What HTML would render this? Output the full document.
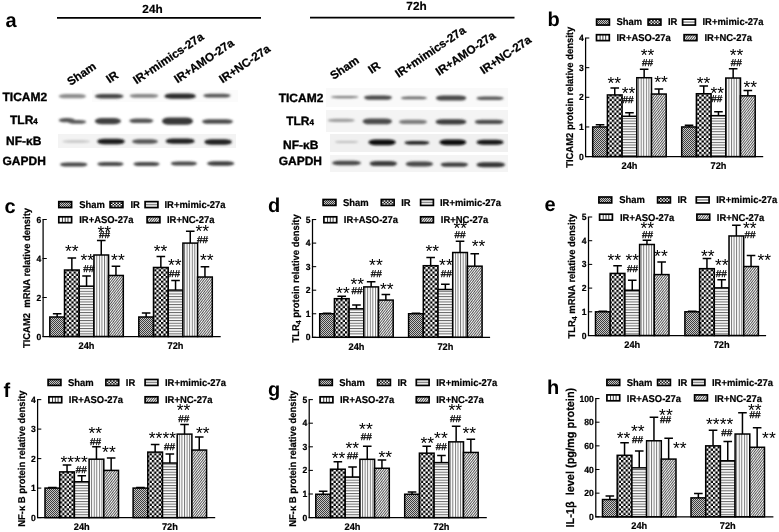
<!DOCTYPE html>
<html lang="en"><head><meta charset="utf-8"><title>Figure</title>
<style>
html,body{margin:0;padding:0;background:#fff}
svg{display:block;font-family:"Liberation Sans", Arial, sans-serif;text-rendering:geometricPrecision}
.t{font-size:9.45px;font-weight:bold;fill:#000;stroke:#000;stroke-width:.2px}
.s{font-size:17.5px;fill:#000}
.h{font-size:10px;fill:#000;stroke:#000;stroke-width:.3px}
.L{font-size:20px;font-weight:bold;fill:#000}
.hd{font-size:11.8px;font-weight:bold;fill:#000;stroke:#000;stroke-width:.2px}
.cl{font-size:11.7px;font-weight:bold;fill:#000;stroke:#000;stroke-width:.25px}
.rl{font-size:12px;font-weight:bold;fill:#000;stroke:#000;stroke-width:.35px}
</style></head><body>
<svg width="779" height="532" viewBox="0 0 779 532">
<defs>
<filter id="blur" x="-5%" y="-5%" width="110%" height="110%"><feGaussianBlur stdDeviation="1"/></filter>
<pattern id="pSham" width="2" height="2" patternUnits="userSpaceOnUse"><rect width="2" height="2" fill="#c6c6c6"/><rect width="1" height="1" fill="#3c3c3c"/><rect x="1" y="1" width="1" height="1" fill="#3c3c3c"/></pattern>
<pattern id="pIR" width="4.6" height="4.6" patternUnits="userSpaceOnUse"><rect width="4.6" height="4.6" fill="#fff"/><rect width="2.3" height="2.3" fill="#000"/><rect x="2.3" y="2.3" width="2.3" height="2.3" fill="#000"/></pattern>
<pattern id="pMim" width="2.66" height="2.66" patternUnits="userSpaceOnUse"><rect width="2.66" height="2.66" fill="#fff"/><rect y="1" width="2.66" height="0.88" fill="#505050"/></pattern>
<pattern id="pASO" width="2.58" height="2.58" patternUnits="userSpaceOnUse"><rect width="2.58" height="2.58" fill="#fff"/><rect x="1" width="0.8" height="2.58" fill="#5c5c5c"/></pattern>
<pattern id="pNC" width="1.9" height="1.9" patternUnits="userSpaceOnUse" patternTransform="rotate(-52)"><rect width="1.9" height="1.9" fill="#fbfbfb"/><rect width="1.9" height="0.88" fill="#444"/></pattern>
</defs>
<rect width="779" height="532" fill="#fff"/>
<g>
<text x="5.5" y="27.4" class="L">a</text>
<text x="152.5" y="13" text-anchor="middle" class="hd">24h</text>
<text x="416.5" y="9.8" text-anchor="middle" class="hd">72h</text>
<path d="M57 17.8H261M310 17.7H514.5" stroke="#000" stroke-width="1.7"/>
<text transform="translate(70.5 86) rotate(-34)" class="cl">Sham</text>
<text transform="translate(109.5 83.5) rotate(-34)" class="cl">IR</text>
<text transform="translate(136.5 84.5) rotate(-34)" class="cl">IR+mimics-27a</text>
<text transform="translate(177.5 83.5) rotate(-34)" class="cl">IR+AMO-27a</text>
<text transform="translate(222.5 83.5) rotate(-34)" class="cl">IR+NC-27a</text>
<text transform="translate(333.5 80) rotate(-34)" class="cl">Sham</text>
<text transform="translate(371.5 74) rotate(-34)" class="cl">IR</text>
<text transform="translate(398.5 78) rotate(-34)" class="cl">IR+mimics-27a</text>
<text transform="translate(439 76) rotate(-34)" class="cl">IR+AMO-27a</text>
<text transform="translate(483.5 74.5) rotate(-34)" class="cl">IR+NC-27a</text>
<text x="2.5" y="101.2" class="rl">TICAM2</text>
<text x="10" y="123.6" class="rl">TLR<tspan font-size="8">4</tspan></text>
<text x="6" y="145.1" class="rl">NF-κB</text>
<text x="2.5" y="164.6" class="rl">GAPDH</text>
<text x="278.7" y="102.3" class="rl">TICAM2</text>
<text x="286.2" y="124.9" class="rl">TLR<tspan font-size="8">4</tspan></text>
<text x="283" y="148.5" class="rl">NF-κB</text>
<text x="278.7" y="165.3" class="rl">GAPDH</text>
<rect x="92" y="90" width="146" height="12" fill="#fbfbfb"/>
<rect x="58" y="134" width="178" height="14" fill="#f3f3f3"/>
<rect x="326" y="88" width="182" height="19" fill="#f9f9f9"/>
<rect x="326" y="110" width="182" height="22" fill="#f4f4f4"/>
<rect x="330" y="134" width="178" height="18" fill="#f0f0f0"/>
<rect x="330" y="155" width="178" height="17" fill="#f4f4f4"/>
<g filter="url(#blur)">
<rect x="58.7" y="94.07" width="27.4" height="4.26" rx="7" ry="2.13" fill="#8c8c8c"/>
<rect x="94.8" y="93.99" width="28.7" height="4.43" rx="7" ry="2.21" fill="#444"/>
<rect x="129.7" y="93.91" width="28.6" height="3.77" rx="7" ry="1.89" fill="#848484"/>
<rect x="164.6" y="93.53" width="31.1" height="5.33" rx="7" ry="2.67" fill="#2a2a2a"/>
<rect x="203.2" y="93.63" width="27.4" height="3.94" rx="7" ry="1.97" fill="#555"/>
<rect x="58.7" y="118.07" width="16.3" height="4.26" rx="7" ry="2.13" fill="#555"/>
<rect x="68" y="120.01" width="18.1" height="3.77" rx="7" ry="1.89" fill="#5a5a5a"/>
<rect x="94.8" y="118.02" width="26.2" height="6.15" rx="7" ry="3.07" fill="#404040"/>
<rect x="129.2" y="118.55" width="24.2" height="4.51" rx="7" ry="2.25" fill="#555"/>
<rect x="162" y="117.41" width="31" height="7.38" rx="7" ry="3.69" fill="#383838"/>
<rect x="202" y="119.34" width="31" height="4.51" rx="7" ry="2.25" fill="#4c4c4c"/>
<rect x="62.5" y="140.35" width="27.5" height="2.3" rx="7" ry="1.15" fill="#c4c4c4"/>
<rect x="97.3" y="138.84" width="27.4" height="5.33" rx="7" ry="2.67" fill="#1c1c1c"/>
<rect x="132" y="139.25" width="26" height="4.51" rx="7" ry="2.25" fill="#555"/>
<rect x="165.8" y="138.53" width="28.7" height="5.33" rx="7" ry="2.67" fill="#222"/>
<rect x="204.4" y="139.34" width="27.4" height="5.33" rx="7" ry="2.67" fill="#222"/>
<rect x="60" y="162.45" width="27.4" height="4.1" rx="7" ry="2.05" fill="#484848"/>
<rect x="97.3" y="161.95" width="26.2" height="4.1" rx="7" ry="2.05" fill="#484848"/>
<rect x="133.4" y="161.95" width="26.2" height="4.1" rx="7" ry="2.05" fill="#484848"/>
<rect x="170.8" y="161.45" width="26.2" height="4.1" rx="7" ry="2.05" fill="#484848"/>
<rect x="207" y="161.37" width="27.3" height="4.26" rx="7" ry="2.13" fill="#404040"/>
<rect x="331" y="96.02" width="27.4" height="2.16" rx="7" ry="1.08" fill="#7a7a7a"/>
<rect x="364" y="95.44" width="28" height="4.32" rx="7" ry="2.16" fill="#484848"/>
<rect x="400.8" y="96.46" width="26.2" height="2.88" rx="7" ry="1.44" fill="#686868"/>
<rect x="435.9" y="95.58" width="30.4" height="5.04" rx="7" ry="2.52" fill="#484848"/>
<rect x="476.5" y="96.4" width="27.1" height="3.6" rx="7" ry="1.8" fill="#585858"/>
<rect x="327.8" y="118.78" width="26.9" height="3.24" rx="7" ry="1.62" fill="#9c9c9c"/>
<rect x="362.7" y="118.52" width="29.3" height="5.76" rx="7" ry="2.88" fill="#4c4c4c"/>
<rect x="399" y="119.74" width="28" height="4.32" rx="7" ry="2.16" fill="#7c7c7c"/>
<rect x="435.6" y="119.2" width="30.7" height="5.4" rx="7" ry="2.7" fill="#3c3c3c"/>
<rect x="474.8" y="119.74" width="28.8" height="4.32" rx="7" ry="2.16" fill="#4c4c4c"/>
<rect x="334.8" y="141.1" width="23.6" height="1.8" rx="7" ry="0.9" fill="#bcbcbc"/>
<rect x="368.4" y="139.42" width="27.4" height="5.76" rx="7" ry="2.88" fill="#0c0c0c"/>
<rect x="404.5" y="141" width="24.9" height="3.6" rx="7" ry="1.8" fill="#1c1c1c"/>
<rect x="439.4" y="139.42" width="26.9" height="5.76" rx="7" ry="2.88" fill="#0c0c0c"/>
<rect x="476.5" y="139.78" width="27.1" height="5.04" rx="7" ry="2.52" fill="#141414"/>
<rect x="332" y="160.84" width="29" height="4.32" rx="7" ry="2.16" fill="#484848"/>
<rect x="369.6" y="161.08" width="27.4" height="5.04" rx="7" ry="2.52" fill="#3c3c3c"/>
<rect x="405.7" y="161.48" width="27.3" height="5.04" rx="7" ry="2.52" fill="#484848"/>
<rect x="440.6" y="162.44" width="27.4" height="4.32" rx="7" ry="2.16" fill="#3c3c3c"/>
<rect x="476.5" y="162.28" width="28.5" height="5.04" rx="7" ry="2.52" fill="#343434"/>
</g>
</g>
<g>
<path d="M600.05 126.95V124.87M595.75 124.87H604.35" stroke="#000" stroke-width="1.5" fill="none"/>
<rect x="592.7" y="126.95" width="14.7" height="29.65" fill="url(#pSham)" stroke="#000" stroke-width="1.5"/>
<path d="M614.75 94.93V88.11M610.45 88.11H619.05" stroke="#000" stroke-width="1.5" fill="none"/>
<rect x="607.4" y="94.93" width="14.7" height="61.67" fill="url(#pIR)" stroke="#000" stroke-width="1.5"/>
<path d="M629.45 116.28V112.72M625.15 112.72H633.75" stroke="#000" stroke-width="1.5" fill="none"/>
<rect x="622.1" y="116.28" width="14.7" height="40.32" fill="url(#pMim)" stroke="#000" stroke-width="1.5"/>
<path d="M644.15 77.73V69.13M639.85 69.13H648.45" stroke="#000" stroke-width="1.5" fill="none"/>
<rect x="636.8" y="77.73" width="14.7" height="78.87" fill="url(#pASO)" stroke="#000" stroke-width="1.5"/>
<path d="M658.85 94.04V89M654.55 89H663.15" stroke="#000" stroke-width="1.5" fill="none"/>
<rect x="651.5" y="94.04" width="14.7" height="62.56" fill="url(#pNC)" stroke="#000" stroke-width="1.5"/>
<path d="M689.05 126.95V125.17M684.75 125.17H693.35" stroke="#000" stroke-width="1.5" fill="none"/>
<rect x="681.7" y="126.95" width="14.7" height="29.65" fill="url(#pSham)" stroke="#000" stroke-width="1.5"/>
<path d="M703.75 93.74V86.03M699.45 86.03H708.05" stroke="#000" stroke-width="1.5" fill="none"/>
<rect x="696.4" y="93.74" width="14.7" height="62.86" fill="url(#pIR)" stroke="#000" stroke-width="1.5"/>
<path d="M718.45 115.68V111.83M714.15 111.83H722.75" stroke="#000" stroke-width="1.5" fill="none"/>
<rect x="711.1" y="115.68" width="14.7" height="40.92" fill="url(#pMim)" stroke="#000" stroke-width="1.5"/>
<path d="M733.15 78.03V68.84M728.85 68.84H737.45" stroke="#000" stroke-width="1.5" fill="none"/>
<rect x="725.8" y="78.03" width="14.7" height="78.57" fill="url(#pASO)" stroke="#000" stroke-width="1.5"/>
<path d="M747.85 95.82V90.48M743.55 90.48H752.15" stroke="#000" stroke-width="1.5" fill="none"/>
<rect x="740.5" y="95.82" width="14.7" height="60.78" fill="url(#pNC)" stroke="#000" stroke-width="1.5"/>
<path d="M585.6 38V156.6H763.2" stroke="#000" stroke-width="1.25" fill="none"/>
<path d="M585 156.6H589.3" stroke="#000" stroke-width="1.05"/>
<text transform="translate(583.7 159.6) scale(1 1.045)" text-anchor="end" class="t" style="font-size:8.6px">0</text>
<path d="M585 126.95H589.3" stroke="#000" stroke-width="1.05"/>
<text transform="translate(583.7 129.95) scale(1 1.045)" text-anchor="end" class="t" style="font-size:8.6px">1</text>
<path d="M585 97.3H589.3" stroke="#000" stroke-width="1.05"/>
<text transform="translate(583.7 100.3) scale(1 1.045)" text-anchor="end" class="t" style="font-size:8.6px">2</text>
<path d="M585 67.65H589.3" stroke="#000" stroke-width="1.05"/>
<text transform="translate(583.7 70.65) scale(1 1.045)" text-anchor="end" class="t" style="font-size:8.6px">3</text>
<path d="M585 38H589.3" stroke="#000" stroke-width="1.05"/>
<text transform="translate(583.7 41) scale(1 1.045)" text-anchor="end" class="t" style="font-size:8.6px">4</text>
<text transform="translate(629.45 169) scale(1 1.045)" text-anchor="middle" class="t" style="font-size:9.25px">24h</text>
<text transform="translate(718.45 169) scale(1 1.045)" text-anchor="middle" class="t" style="font-size:9.25px">72h</text>
<text transform="translate(572.5 97.3) rotate(-90) scale(1 1.045)" text-anchor="middle" class="t" style="font-size:9.45px">TICAM2 protein relative density</text>
<text x="614.2" y="88.5" text-anchor="middle" class="s">**</text>
<text x="628.5" y="98.5" text-anchor="middle" class="s">**</text>
<text x="647.5" y="60.5" text-anchor="middle" class="s">**</text>
<text x="661" y="88" text-anchor="middle" class="s">**</text>
<text x="703.5" y="88.5" text-anchor="middle" class="s">**</text>
<text x="717.2" y="98.5" text-anchor="middle" class="s">**</text>
<text x="736.5" y="60.5" text-anchor="middle" class="s">**</text>
<text x="750.2" y="93" text-anchor="middle" class="s">**</text>
<text x="628" y="102.8" text-anchor="middle" class="h">##</text>
<text x="647.5" y="65.8" text-anchor="middle" class="h">##</text>
<text x="716.8" y="102.1" text-anchor="middle" class="h">##</text>
<text x="736.3" y="65.8" text-anchor="middle" class="h">##</text>
<rect x="596.6" y="19.15" width="12.8" height="5.9" fill="url(#pSham)" stroke="#000" stroke-width="1.7"/>
<text transform="translate(616.5 25.45) scale(1 1.045)" class="t">Sham</text>
<rect x="648.1" y="19.15" width="12.8" height="5.9" fill="#fff"/>
<path d="M648.95 20h1.59v1.4h-1.59zM652.12 20h1.59v1.4h-1.59zM655.29 20h1.59v1.4h-1.59zM658.46 20h1.59v1.4h-1.59zM650.54 21.4h1.59v1.4h-1.59zM653.71 21.4h1.59v1.4h-1.59zM656.88 21.4h1.59v1.4h-1.59zM648.95 22.8h1.59v1.4h-1.59zM652.12 22.8h1.59v1.4h-1.59zM655.29 22.8h1.59v1.4h-1.59zM658.46 22.8h1.59v1.4h-1.59z" fill="#000"/>
<rect x="648.1" y="19.15" width="12.8" height="5.9" fill="none" stroke="#000" stroke-width="1.7"/>
<text transform="translate(668 25.45) scale(1 1.045)" class="t">IR</text>
<rect x="682.6" y="19.15" width="12.8" height="5.9" fill="#fff"/>
<path d="M682.6 22.1h12.8" stroke="#8a8a8a" stroke-width="1.5" fill="none"/>
<rect x="682.6" y="19.15" width="12.8" height="5.9" fill="none" stroke="#000" stroke-width="1.7"/>
<text transform="translate(702.5 25.45) scale(1 1.045)" class="t">IR+mimic-27a</text>
<rect x="596.5" y="34.7" width="12.8" height="5.9" fill="#fff"/>
<path d="M600.12 34.7v5.9M602.9 34.7v5.9M605.68 34.7v5.9" stroke="#333" stroke-width="0.95" fill="none"/>
<rect x="596.5" y="34.7" width="12.8" height="5.9" fill="none" stroke="#000" stroke-width="1.7"/>
<text transform="translate(616.5 41) scale(1 1.045)" class="t">IR+ASO-27a</text>
<rect x="684.1" y="34.7" width="12.8" height="5.9" fill="url(#pNC)" stroke="#000" stroke-width="1.7"/>
<text transform="translate(704.5 41) scale(1 1.045)" class="t">IR+NC-27a</text>
<text x="547.5" y="26.4" class="L">b</text>
</g>
<g>
<path d="M57.15 317V313.69M52.85 313.69H61.45" stroke="#000" stroke-width="1.5" fill="none"/>
<rect x="49.8" y="317" width="14.7" height="19.5" fill="url(#pSham)" stroke="#000" stroke-width="1.5"/>
<path d="M71.85 270V257.91M67.55 257.91H76.15" stroke="#000" stroke-width="1.5" fill="none"/>
<rect x="64.5" y="270" width="14.7" height="66.5" fill="url(#pIR)" stroke="#000" stroke-width="1.5"/>
<path d="M86.55 286.19V276.05M82.25 276.05H90.85" stroke="#000" stroke-width="1.5" fill="none"/>
<rect x="79.2" y="286.19" width="14.7" height="50.31" fill="url(#pMim)" stroke="#000" stroke-width="1.5"/>
<path d="M101.25 254.99V240.56M96.95 240.56H105.55" stroke="#000" stroke-width="1.5" fill="none"/>
<rect x="93.9" y="254.99" width="14.7" height="81.51" fill="url(#pASO)" stroke="#000" stroke-width="1.5"/>
<path d="M115.95 275.47V266.3M111.65 266.3H120.25" stroke="#000" stroke-width="1.5" fill="none"/>
<rect x="108.6" y="275.47" width="14.7" height="61.03" fill="url(#pNC)" stroke="#000" stroke-width="1.5"/>
<path d="M146.15 317V313.1M141.85 313.1H150.45" stroke="#000" stroke-width="1.5" fill="none"/>
<rect x="138.8" y="317" width="14.7" height="19.5" fill="url(#pSham)" stroke="#000" stroke-width="1.5"/>
<path d="M160.85 267.47V256.55M156.55 256.55H165.15" stroke="#000" stroke-width="1.5" fill="none"/>
<rect x="153.5" y="267.47" width="14.7" height="69.03" fill="url(#pIR)" stroke="#000" stroke-width="1.5"/>
<path d="M175.55 290.09V280.53M171.25 280.53H179.85" stroke="#000" stroke-width="1.5" fill="none"/>
<rect x="168.2" y="290.09" width="14.7" height="46.41" fill="url(#pMim)" stroke="#000" stroke-width="1.5"/>
<path d="M190.25 243.09V231.2M185.95 231.2H194.55" stroke="#000" stroke-width="1.5" fill="none"/>
<rect x="182.9" y="243.09" width="14.7" height="93.41" fill="url(#pASO)" stroke="#000" stroke-width="1.5"/>
<path d="M204.95 277.02V266.69M200.65 266.69H209.25" stroke="#000" stroke-width="1.5" fill="none"/>
<rect x="197.6" y="277.02" width="14.7" height="59.48" fill="url(#pNC)" stroke="#000" stroke-width="1.5"/>
<path d="M43.1 219.5V336.5H220.7" stroke="#000" stroke-width="1.25" fill="none"/>
<path d="M42.5 336.5H46.8" stroke="#000" stroke-width="1.05"/>
<text transform="translate(41.2 339.5) scale(1 1.045)" text-anchor="end" class="t" style="font-size:8.6px">0</text>
<path d="M42.5 297.5H46.8" stroke="#000" stroke-width="1.05"/>
<text transform="translate(41.2 300.5) scale(1 1.045)" text-anchor="end" class="t" style="font-size:8.6px">2</text>
<path d="M42.5 258.5H46.8" stroke="#000" stroke-width="1.05"/>
<text transform="translate(41.2 261.5) scale(1 1.045)" text-anchor="end" class="t" style="font-size:8.6px">4</text>
<path d="M42.5 219.5H46.8" stroke="#000" stroke-width="1.05"/>
<text transform="translate(41.2 222.5) scale(1 1.045)" text-anchor="end" class="t" style="font-size:8.6px">6</text>
<text transform="translate(86.55 348.6) scale(1 1.045)" text-anchor="middle" class="t" style="font-size:9.25px">24h</text>
<text transform="translate(175.55 348.6) scale(1 1.045)" text-anchor="middle" class="t" style="font-size:9.25px">72h</text>
<text transform="translate(30.4 278) rotate(-90) scale(1 1.045)" text-anchor="middle" class="t" style="font-size:9.45px">TICAM2  mRNA relative density</text>
<text x="71.7" y="256.7" text-anchor="middle" class="s">**</text>
<text x="87.2" y="266" text-anchor="middle" class="s">**</text>
<text x="104.2" y="237.7" text-anchor="middle" class="s">**</text>
<text x="117.9" y="266" text-anchor="middle" class="s">**</text>
<text x="160.5" y="256.7" text-anchor="middle" class="s">**</text>
<text x="174.7" y="271" text-anchor="middle" class="s">**</text>
<text x="202.2" y="236.7" text-anchor="middle" class="s">**</text>
<text x="206.7" y="266" text-anchor="middle" class="s">**</text>
<text x="88.8" y="271.5" text-anchor="middle" class="h">##</text>
<text x="104.5" y="238.3" text-anchor="middle" class="h">##</text>
<text x="174.5" y="276.5" text-anchor="middle" class="h">##</text>
<text x="202.5" y="242.8" text-anchor="middle" class="h">##</text>
<rect x="58.8" y="201.65" width="12.8" height="5.9" fill="url(#pSham)" stroke="#000" stroke-width="1.7"/>
<text transform="translate(79.2 207.95) scale(1 1.045)" class="t">Sham</text>
<rect x="110.1" y="201.65" width="12.8" height="5.9" fill="#fff"/>
<path d="M110.95 202.5h1.59v1.4h-1.59zM114.12 202.5h1.59v1.4h-1.59zM117.29 202.5h1.59v1.4h-1.59zM120.46 202.5h1.59v1.4h-1.59zM112.54 203.9h1.59v1.4h-1.59zM115.71 203.9h1.59v1.4h-1.59zM118.88 203.9h1.59v1.4h-1.59zM110.95 205.3h1.59v1.4h-1.59zM114.12 205.3h1.59v1.4h-1.59zM117.29 205.3h1.59v1.4h-1.59zM120.46 205.3h1.59v1.4h-1.59z" fill="#000"/>
<rect x="110.1" y="201.65" width="12.8" height="5.9" fill="none" stroke="#000" stroke-width="1.7"/>
<text transform="translate(130.5 207.95) scale(1 1.045)" class="t">IR</text>
<rect x="145.1" y="201.65" width="12.8" height="5.9" fill="#fff"/>
<path d="M145.1 204.6h12.8" stroke="#8a8a8a" stroke-width="1.5" fill="none"/>
<rect x="145.1" y="201.65" width="12.8" height="5.9" fill="none" stroke="#000" stroke-width="1.7"/>
<text transform="translate(164.5 207.95) scale(1 1.045)" class="t">IR+mimic-27a</text>
<rect x="58.8" y="216.8" width="12.8" height="5.9" fill="#fff"/>
<path d="M62.43 216.8v5.9M65.2 216.8v5.9M67.98 216.8v5.9" stroke="#333" stroke-width="0.95" fill="none"/>
<rect x="58.8" y="216.8" width="12.8" height="5.9" fill="none" stroke="#000" stroke-width="1.7"/>
<text transform="translate(79.2 223.1) scale(1 1.045)" class="t">IR+ASO-27a</text>
<rect x="147.1" y="216.8" width="12.8" height="5.9" fill="url(#pNC)" stroke="#000" stroke-width="1.7"/>
<text transform="translate(167 223.1) scale(1 1.045)" class="t">IR+NC-27a</text>
<text x="4.5" y="212.6" class="L">c</text>
</g>
<g>
<path d="M327.05 313.75V313.28M322.75 313.28H331.35" stroke="#000" stroke-width="1.5" fill="none"/>
<rect x="319.7" y="313.75" width="14.7" height="23.55" fill="url(#pSham)" stroke="#000" stroke-width="1.5"/>
<path d="M341.75 298.68V296.32M337.45 296.32H346.05" stroke="#000" stroke-width="1.5" fill="none"/>
<rect x="334.4" y="298.68" width="14.7" height="38.62" fill="url(#pIR)" stroke="#000" stroke-width="1.5"/>
<path d="M356.45 308.8V305.04M352.15 305.04H360.75" stroke="#000" stroke-width="1.5" fill="none"/>
<rect x="349.1" y="308.8" width="14.7" height="28.5" fill="url(#pMim)" stroke="#000" stroke-width="1.5"/>
<path d="M371.15 286.9V281.72M366.85 281.72H375.45" stroke="#000" stroke-width="1.5" fill="none"/>
<rect x="363.8" y="286.9" width="14.7" height="50.4" fill="url(#pASO)" stroke="#000" stroke-width="1.5"/>
<path d="M385.85 300.09V294.44M381.55 294.44H390.15" stroke="#000" stroke-width="1.5" fill="none"/>
<rect x="378.5" y="300.09" width="14.7" height="37.21" fill="url(#pNC)" stroke="#000" stroke-width="1.5"/>
<path d="M415.95 313.75V313.28M411.65 313.28H420.25" stroke="#000" stroke-width="1.5" fill="none"/>
<rect x="408.6" y="313.75" width="14.7" height="23.55" fill="url(#pSham)" stroke="#000" stroke-width="1.5"/>
<path d="M430.65 265.71V257.47M426.35 257.47H434.95" stroke="#000" stroke-width="1.5" fill="none"/>
<rect x="423.3" y="265.71" width="14.7" height="71.59" fill="url(#pIR)" stroke="#000" stroke-width="1.5"/>
<path d="M445.35 289.49V284.31M441.05 284.31H449.65" stroke="#000" stroke-width="1.5" fill="none"/>
<rect x="438" y="289.49" width="14.7" height="47.81" fill="url(#pMim)" stroke="#000" stroke-width="1.5"/>
<path d="M460.05 252.52V241.22M455.75 241.22H464.35" stroke="#000" stroke-width="1.5" fill="none"/>
<rect x="452.7" y="252.52" width="14.7" height="84.78" fill="url(#pASO)" stroke="#000" stroke-width="1.5"/>
<path d="M474.75 266.18V253.7M470.45 253.7H479.05" stroke="#000" stroke-width="1.5" fill="none"/>
<rect x="467.4" y="266.18" width="14.7" height="71.12" fill="url(#pNC)" stroke="#000" stroke-width="1.5"/>
<path d="M312.5 219.55V337.3H490.1" stroke="#000" stroke-width="1.25" fill="none"/>
<path d="M311.9 337.3H316.2" stroke="#000" stroke-width="1.05"/>
<text transform="translate(310.6 340.3) scale(1 1.045)" text-anchor="end" class="t" style="font-size:8.6px">0</text>
<path d="M311.9 313.75H316.2" stroke="#000" stroke-width="1.05"/>
<text transform="translate(310.6 316.75) scale(1 1.045)" text-anchor="end" class="t" style="font-size:8.6px">1</text>
<path d="M311.9 290.2H316.2" stroke="#000" stroke-width="1.05"/>
<text transform="translate(310.6 293.2) scale(1 1.045)" text-anchor="end" class="t" style="font-size:8.6px">2</text>
<path d="M311.9 266.65H316.2" stroke="#000" stroke-width="1.05"/>
<text transform="translate(310.6 269.65) scale(1 1.045)" text-anchor="end" class="t" style="font-size:8.6px">3</text>
<path d="M311.9 243.1H316.2" stroke="#000" stroke-width="1.05"/>
<text transform="translate(310.6 246.1) scale(1 1.045)" text-anchor="end" class="t" style="font-size:8.6px">4</text>
<path d="M311.9 219.55H316.2" stroke="#000" stroke-width="1.05"/>
<text transform="translate(310.6 222.55) scale(1 1.045)" text-anchor="end" class="t" style="font-size:8.6px">5</text>
<text transform="translate(356.45 349.9) scale(1 1.045)" text-anchor="middle" class="t" style="font-size:9.25px">24h</text>
<text transform="translate(445.35 349.9) scale(1 1.045)" text-anchor="middle" class="t" style="font-size:9.25px">72h</text>
<text transform="translate(299.4 278.43) rotate(-90) scale(1 1.045)" text-anchor="middle" class="t" style="font-size:9.45px">TLR<tspan font-size="7" dy="2">4</tspan><tspan dy="-2"> protein relative density</tspan></text>
<text x="342.9" y="299.3" text-anchor="middle" class="s">**</text>
<text x="357.2" y="289.7" text-anchor="middle" class="s">**</text>
<text x="375.9" y="271" text-anchor="middle" class="s">**</text>
<text x="386.7" y="294.7" text-anchor="middle" class="s">**</text>
<text x="432.2" y="256.7" text-anchor="middle" class="s">**</text>
<text x="445.9" y="271" text-anchor="middle" class="s">**</text>
<text x="460.2" y="234.3" text-anchor="middle" class="s">**</text>
<text x="478.5" y="251.7" text-anchor="middle" class="s">**</text>
<text x="357" y="294.1" text-anchor="middle" class="h">##</text>
<text x="376.2" y="276.5" text-anchor="middle" class="h">##</text>
<text x="446.2" y="276.5" text-anchor="middle" class="h">##</text>
<text x="460" y="238.3" text-anchor="middle" class="h">##</text>
<rect x="323.1" y="199.5" width="12.8" height="5.9" fill="url(#pSham)" stroke="#000" stroke-width="1.7"/>
<text transform="translate(343 205.8) scale(1 1.045)" class="t">Sham</text>
<rect x="381.3" y="199.5" width="12.8" height="5.9" fill="#fff"/>
<path d="M382.15 200.35h1.59v1.4h-1.59zM385.32 200.35h1.59v1.4h-1.59zM388.49 200.35h1.59v1.4h-1.59zM391.66 200.35h1.59v1.4h-1.59zM383.74 201.75h1.59v1.4h-1.59zM386.91 201.75h1.59v1.4h-1.59zM390.08 201.75h1.59v1.4h-1.59zM382.15 203.15h1.59v1.4h-1.59zM385.32 203.15h1.59v1.4h-1.59zM388.49 203.15h1.59v1.4h-1.59zM391.66 203.15h1.59v1.4h-1.59z" fill="#000"/>
<rect x="381.3" y="199.5" width="12.8" height="5.9" fill="none" stroke="#000" stroke-width="1.7"/>
<text transform="translate(401.2 205.8) scale(1 1.045)" class="t">IR</text>
<rect x="420.6" y="199.5" width="12.8" height="5.9" fill="#fff"/>
<path d="M420.6 202.45h12.8" stroke="#8a8a8a" stroke-width="1.5" fill="none"/>
<rect x="420.6" y="199.5" width="12.8" height="5.9" fill="none" stroke="#000" stroke-width="1.7"/>
<text transform="translate(440 205.8) scale(1 1.045)" class="t">IR+mimic-27a</text>
<rect x="323.9" y="216.8" width="12.8" height="5.9" fill="#fff"/>
<path d="M327.53 216.8v5.9M330.3 216.8v5.9M333.08 216.8v5.9" stroke="#333" stroke-width="0.95" fill="none"/>
<rect x="323.9" y="216.8" width="12.8" height="5.9" fill="none" stroke="#000" stroke-width="1.7"/>
<text transform="translate(343.8 223.1) scale(1 1.045)" class="t">IR+ASO-27a</text>
<rect x="420.6" y="216.8" width="12.8" height="5.9" fill="url(#pNC)" stroke="#000" stroke-width="1.7"/>
<text transform="translate(440.8 223.1) scale(1 1.045)" class="t">IR+NC-27a</text>
<text x="268" y="211.7" class="L">d</text>
</g>
<g>
<path d="M602.85 311.8V311.33M598.55 311.33H607.15" stroke="#000" stroke-width="1.5" fill="none"/>
<rect x="595.5" y="311.8" width="14.7" height="23.7" fill="url(#pSham)" stroke="#000" stroke-width="1.5"/>
<path d="M617.55 273.41V265.82M613.25 265.82H621.85" stroke="#000" stroke-width="1.5" fill="none"/>
<rect x="610.2" y="273.41" width="14.7" height="62.09" fill="url(#pIR)" stroke="#000" stroke-width="1.5"/>
<path d="M632.25 290.23V280.28M627.95 280.28H636.55" stroke="#000" stroke-width="1.5" fill="none"/>
<rect x="624.9" y="290.23" width="14.7" height="45.27" fill="url(#pMim)" stroke="#000" stroke-width="1.5"/>
<path d="M646.95 244.49V240.23M642.65 240.23H651.25" stroke="#000" stroke-width="1.5" fill="none"/>
<rect x="639.6" y="244.49" width="14.7" height="91.01" fill="url(#pASO)" stroke="#000" stroke-width="1.5"/>
<path d="M661.65 274.59V262.03M657.35 262.03H665.95" stroke="#000" stroke-width="1.5" fill="none"/>
<rect x="654.3" y="274.59" width="14.7" height="60.91" fill="url(#pNC)" stroke="#000" stroke-width="1.5"/>
<path d="M692.25 311.8V311.33M687.95 311.33H696.55" stroke="#000" stroke-width="1.5" fill="none"/>
<rect x="684.9" y="311.8" width="14.7" height="23.7" fill="url(#pSham)" stroke="#000" stroke-width="1.5"/>
<path d="M706.95 268.67V258.48M702.65 258.48H711.25" stroke="#000" stroke-width="1.5" fill="none"/>
<rect x="699.6" y="268.67" width="14.7" height="66.83" fill="url(#pIR)" stroke="#000" stroke-width="1.5"/>
<path d="M721.65 287.86V279.81M717.35 279.81H725.95" stroke="#000" stroke-width="1.5" fill="none"/>
<rect x="714.3" y="287.86" width="14.7" height="47.64" fill="url(#pMim)" stroke="#000" stroke-width="1.5"/>
<path d="M736.35 235.96V225.3M732.05 225.3H740.65" stroke="#000" stroke-width="1.5" fill="none"/>
<rect x="729" y="235.96" width="14.7" height="99.54" fill="url(#pASO)" stroke="#000" stroke-width="1.5"/>
<path d="M751.05 266.53V255.39M746.75 255.39H755.35" stroke="#000" stroke-width="1.5" fill="none"/>
<rect x="743.7" y="266.53" width="14.7" height="68.97" fill="url(#pNC)" stroke="#000" stroke-width="1.5"/>
<path d="M588.5 217V335.5H766.1" stroke="#000" stroke-width="1.25" fill="none"/>
<path d="M587.9 335.5H592.2" stroke="#000" stroke-width="1.05"/>
<text transform="translate(586.6 338.5) scale(1 1.045)" text-anchor="end" class="t" style="font-size:8.6px">0</text>
<path d="M587.9 311.8H592.2" stroke="#000" stroke-width="1.05"/>
<text transform="translate(586.6 314.8) scale(1 1.045)" text-anchor="end" class="t" style="font-size:8.6px">1</text>
<path d="M587.9 288.1H592.2" stroke="#000" stroke-width="1.05"/>
<text transform="translate(586.6 291.1) scale(1 1.045)" text-anchor="end" class="t" style="font-size:8.6px">2</text>
<path d="M587.9 264.4H592.2" stroke="#000" stroke-width="1.05"/>
<text transform="translate(586.6 267.4) scale(1 1.045)" text-anchor="end" class="t" style="font-size:8.6px">3</text>
<path d="M587.9 240.7H592.2" stroke="#000" stroke-width="1.05"/>
<text transform="translate(586.6 243.7) scale(1 1.045)" text-anchor="end" class="t" style="font-size:8.6px">4</text>
<path d="M587.9 217H592.2" stroke="#000" stroke-width="1.05"/>
<text transform="translate(586.6 220) scale(1 1.045)" text-anchor="end" class="t" style="font-size:8.6px">5</text>
<text transform="translate(632.25 348.1) scale(1 1.045)" text-anchor="middle" class="t" style="font-size:9.25px">24h</text>
<text transform="translate(721.65 348.1) scale(1 1.045)" text-anchor="middle" class="t" style="font-size:9.25px">72h</text>
<text transform="translate(575 276.25) rotate(-90) scale(1 1.045)" text-anchor="middle" class="t" style="font-size:9.45px">TLR<tspan font-size="7" dy="2">4</tspan><tspan dy="-2"> mRNA relative density</tspan></text>
<text x="614.2" y="266" text-anchor="middle" class="s">**</text>
<text x="632.2" y="266" text-anchor="middle" class="s">**</text>
<text x="647.2" y="233.5" text-anchor="middle" class="s">**</text>
<text x="660.9" y="261.7" text-anchor="middle" class="s">**</text>
<text x="707.7" y="261.7" text-anchor="middle" class="s">**</text>
<text x="721.7" y="270.5" text-anchor="middle" class="s">**</text>
<text x="749.7" y="233.5" text-anchor="middle" class="s">**</text>
<text x="764.2" y="266" text-anchor="middle" class="s">**</text>
<text x="632.5" y="271.5" text-anchor="middle" class="h">##</text>
<text x="647.5" y="238.3" text-anchor="middle" class="h">##</text>
<text x="721.2" y="276.5" text-anchor="middle" class="h">##</text>
<text x="750" y="238.3" text-anchor="middle" class="h">##</text>
<rect x="598.9" y="197" width="12.8" height="5.9" fill="url(#pSham)" stroke="#000" stroke-width="1.7"/>
<text transform="translate(619.2 203.3) scale(1 1.045)" class="t">Sham</text>
<rect x="657.6" y="197" width="12.8" height="5.9" fill="#fff"/>
<path d="M658.45 197.85h1.59v1.4h-1.59zM661.62 197.85h1.59v1.4h-1.59zM664.79 197.85h1.59v1.4h-1.59zM667.96 197.85h1.59v1.4h-1.59zM660.04 199.25h1.59v1.4h-1.59zM663.21 199.25h1.59v1.4h-1.59zM666.38 199.25h1.59v1.4h-1.59zM658.45 200.65h1.59v1.4h-1.59zM661.62 200.65h1.59v1.4h-1.59zM664.79 200.65h1.59v1.4h-1.59zM667.96 200.65h1.59v1.4h-1.59z" fill="#000"/>
<rect x="657.6" y="197" width="12.8" height="5.9" fill="none" stroke="#000" stroke-width="1.7"/>
<text transform="translate(677.5 203.3) scale(1 1.045)" class="t">IR</text>
<rect x="696.3" y="197" width="12.8" height="5.9" fill="#fff"/>
<path d="M696.3 199.95h12.8" stroke="#8a8a8a" stroke-width="1.5" fill="none"/>
<rect x="696.3" y="197" width="12.8" height="5.9" fill="none" stroke="#000" stroke-width="1.7"/>
<text transform="translate(716.2 203.3) scale(1 1.045)" class="t">IR+mimic-27a</text>
<rect x="599.6" y="214.2" width="12.8" height="5.9" fill="#fff"/>
<path d="M603.23 214.2v5.9M606 214.2v5.9M608.78 214.2v5.9" stroke="#333" stroke-width="0.95" fill="none"/>
<rect x="599.6" y="214.2" width="12.8" height="5.9" fill="none" stroke="#000" stroke-width="1.7"/>
<text transform="translate(620 220.5) scale(1 1.045)" class="t">IR+ASO-27a</text>
<rect x="696.9" y="214.2" width="12.8" height="5.9" fill="url(#pNC)" stroke="#000" stroke-width="1.7"/>
<text transform="translate(716.8 220.5) scale(1 1.045)" class="t">IR+NC-27a</text>
<text x="544.5" y="211" class="L">e</text>
</g>
<g>
<path d="M52.35 488.1V487.51M48.05 487.51H56.65" stroke="#000" stroke-width="1.5" fill="none"/>
<rect x="45" y="488.1" width="14.7" height="29.5" fill="url(#pSham)" stroke="#000" stroke-width="1.5"/>
<path d="M67.05 471.88V465.09M62.75 465.09H71.35" stroke="#000" stroke-width="1.5" fill="none"/>
<rect x="59.7" y="471.88" width="14.7" height="45.73" fill="url(#pIR)" stroke="#000" stroke-width="1.5"/>
<path d="M81.75 481.76V475.86M77.45 475.86H86.05" stroke="#000" stroke-width="1.5" fill="none"/>
<rect x="74.4" y="481.76" width="14.7" height="35.84" fill="url(#pMim)" stroke="#000" stroke-width="1.5"/>
<path d="M96.45 459.19V446.8M92.15 446.8H100.75" stroke="#000" stroke-width="1.5" fill="none"/>
<rect x="89.1" y="459.19" width="14.7" height="58.41" fill="url(#pASO)" stroke="#000" stroke-width="1.5"/>
<path d="M111.15 470.4V458.01M106.85 458.01H115.45" stroke="#000" stroke-width="1.5" fill="none"/>
<rect x="103.8" y="470.4" width="14.7" height="47.2" fill="url(#pNC)" stroke="#000" stroke-width="1.5"/>
<path d="M140.45 488.1V487.51M136.15 487.51H144.75" stroke="#000" stroke-width="1.5" fill="none"/>
<rect x="133.1" y="488.1" width="14.7" height="29.5" fill="url(#pSham)" stroke="#000" stroke-width="1.5"/>
<path d="M155.15 452.11V444.44M150.85 444.44H159.45" stroke="#000" stroke-width="1.5" fill="none"/>
<rect x="147.8" y="452.11" width="14.7" height="65.49" fill="url(#pIR)" stroke="#000" stroke-width="1.5"/>
<path d="M169.85 463.03V453.88M165.55 453.88H174.15" stroke="#000" stroke-width="1.5" fill="none"/>
<rect x="162.5" y="463.03" width="14.7" height="54.57" fill="url(#pMim)" stroke="#000" stroke-width="1.5"/>
<path d="M184.55 434.12V424.38M180.25 424.38H188.85" stroke="#000" stroke-width="1.5" fill="none"/>
<rect x="177.2" y="434.12" width="14.7" height="83.49" fill="url(#pASO)" stroke="#000" stroke-width="1.5"/>
<path d="M199.25 450.05V437.07M194.95 437.07H203.55" stroke="#000" stroke-width="1.5" fill="none"/>
<rect x="191.9" y="450.05" width="14.7" height="67.56" fill="url(#pNC)" stroke="#000" stroke-width="1.5"/>
<path d="M37.6 399.6V517.6H215.2" stroke="#000" stroke-width="1.25" fill="none"/>
<path d="M37 517.6H41.3" stroke="#000" stroke-width="1.05"/>
<text transform="translate(35.7 520.6) scale(1 1.045)" text-anchor="end" class="t" style="font-size:8.6px">0</text>
<path d="M37 488.1H41.3" stroke="#000" stroke-width="1.05"/>
<text transform="translate(35.7 491.1) scale(1 1.045)" text-anchor="end" class="t" style="font-size:8.6px">1</text>
<path d="M37 458.6H41.3" stroke="#000" stroke-width="1.05"/>
<text transform="translate(35.7 461.6) scale(1 1.045)" text-anchor="end" class="t" style="font-size:8.6px">2</text>
<path d="M37 429.1H41.3" stroke="#000" stroke-width="1.05"/>
<text transform="translate(35.7 432.1) scale(1 1.045)" text-anchor="end" class="t" style="font-size:8.6px">3</text>
<path d="M37 399.6H41.3" stroke="#000" stroke-width="1.05"/>
<text transform="translate(35.7 402.6) scale(1 1.045)" text-anchor="end" class="t" style="font-size:8.6px">4</text>
<text transform="translate(81.75 529.5) scale(1 1.045)" text-anchor="middle" class="t" style="font-size:9.25px">24h</text>
<text transform="translate(169.85 529.5) scale(1 1.045)" text-anchor="middle" class="t" style="font-size:9.25px">72h</text>
<text transform="translate(24.8 458.6) rotate(-90) scale(1 1.045)" text-anchor="middle" class="t" style="font-size:9.45px">NF-κ B protein relative density</text>
<text x="67.2" y="467.7" text-anchor="middle" class="s">**</text>
<text x="80.9" y="467.7" text-anchor="middle" class="s">**</text>
<text x="95.2" y="439" text-anchor="middle" class="s">**</text>
<text x="108.9" y="458" text-anchor="middle" class="s">**</text>
<text x="155.5" y="444" text-anchor="middle" class="s">**</text>
<text x="169.2" y="444" text-anchor="middle" class="s">**</text>
<text x="183.5" y="416" text-anchor="middle" class="s">**</text>
<text x="202.7" y="439" text-anchor="middle" class="s">**</text>
<text x="81.2" y="472.8" text-anchor="middle" class="h">##</text>
<text x="95.5" y="444.5" text-anchor="middle" class="h">##</text>
<text x="169.5" y="450.3" text-anchor="middle" class="h">##</text>
<text x="183.8" y="421.5" text-anchor="middle" class="h">##</text>
<rect x="48.1" y="379.5" width="12.8" height="5.9" fill="url(#pSham)" stroke="#000" stroke-width="1.7"/>
<text transform="translate(68 385.8) scale(1 1.045)" class="t">Sham</text>
<rect x="105.9" y="379.5" width="12.8" height="5.9" fill="#fff"/>
<path d="M106.75 380.35h1.59v1.4h-1.59zM109.92 380.35h1.59v1.4h-1.59zM113.09 380.35h1.59v1.4h-1.59zM116.26 380.35h1.59v1.4h-1.59zM108.34 381.75h1.59v1.4h-1.59zM111.51 381.75h1.59v1.4h-1.59zM114.68 381.75h1.59v1.4h-1.59zM106.75 383.15h1.59v1.4h-1.59zM109.92 383.15h1.59v1.4h-1.59zM113.09 383.15h1.59v1.4h-1.59zM116.26 383.15h1.59v1.4h-1.59z" fill="#000"/>
<rect x="105.9" y="379.5" width="12.8" height="5.9" fill="none" stroke="#000" stroke-width="1.7"/>
<text transform="translate(125.8 385.8) scale(1 1.045)" class="t">IR</text>
<rect x="145.1" y="379.5" width="12.8" height="5.9" fill="#fff"/>
<path d="M145.1 382.45h12.8" stroke="#8a8a8a" stroke-width="1.5" fill="none"/>
<rect x="145.1" y="379.5" width="12.8" height="5.9" fill="none" stroke="#000" stroke-width="1.7"/>
<text transform="translate(165 385.8) scale(1 1.045)" class="t">IR+mimic-27a</text>
<rect x="48.9" y="396.8" width="12.8" height="5.9" fill="#fff"/>
<path d="M52.52 396.8v5.9M55.3 396.8v5.9M58.08 396.8v5.9" stroke="#333" stroke-width="0.95" fill="none"/>
<rect x="48.9" y="396.8" width="12.8" height="5.9" fill="none" stroke="#000" stroke-width="1.7"/>
<text transform="translate(68.8 403.1) scale(1 1.045)" class="t">IR+ASO-27a</text>
<rect x="145.1" y="396.8" width="12.8" height="5.9" fill="url(#pNC)" stroke="#000" stroke-width="1.7"/>
<text transform="translate(165 403.1) scale(1 1.045)" class="t">IR+NC-27a</text>
<text x="3.5" y="396.8" class="L">f</text>
</g>
<g>
<path d="M323.15 494.24V491.17M318.85 491.17H327.45" stroke="#000" stroke-width="1.5" fill="none"/>
<rect x="315.8" y="494.24" width="14.7" height="23.36" fill="url(#pSham)" stroke="#000" stroke-width="1.5"/>
<path d="M337.85 469.22V461.67M333.55 461.67H342.15" stroke="#000" stroke-width="1.5" fill="none"/>
<rect x="330.5" y="469.22" width="14.7" height="48.38" fill="url(#pIR)" stroke="#000" stroke-width="1.5"/>
<path d="M352.55 477.01V467.1M348.25 467.1H356.85" stroke="#000" stroke-width="1.5" fill="none"/>
<rect x="345.2" y="477.01" width="14.7" height="40.59" fill="url(#pMim)" stroke="#000" stroke-width="1.5"/>
<path d="M367.25 459.31V446.33M362.95 446.33H371.55" stroke="#000" stroke-width="1.5" fill="none"/>
<rect x="359.9" y="459.31" width="14.7" height="58.29" fill="url(#pASO)" stroke="#000" stroke-width="1.5"/>
<path d="M381.95 468.28V460.02M377.65 460.02H386.25" stroke="#000" stroke-width="1.5" fill="none"/>
<rect x="374.6" y="468.28" width="14.7" height="49.32" fill="url(#pNC)" stroke="#000" stroke-width="1.5"/>
<path d="M412.05 494.24V491.88M407.75 491.88H416.35" stroke="#000" stroke-width="1.5" fill="none"/>
<rect x="404.7" y="494.24" width="14.7" height="23.36" fill="url(#pSham)" stroke="#000" stroke-width="1.5"/>
<path d="M426.75 453.17V446.33M422.45 446.33H431.05" stroke="#000" stroke-width="1.5" fill="none"/>
<rect x="419.4" y="453.17" width="14.7" height="64.43" fill="url(#pIR)" stroke="#000" stroke-width="1.5"/>
<path d="M441.45 462.61V455.53M437.15 455.53H445.75" stroke="#000" stroke-width="1.5" fill="none"/>
<rect x="434.1" y="462.61" width="14.7" height="54.99" fill="url(#pMim)" stroke="#000" stroke-width="1.5"/>
<path d="M456.15 441.84V426.27M451.85 426.27H460.45" stroke="#000" stroke-width="1.5" fill="none"/>
<rect x="448.8" y="441.84" width="14.7" height="75.76" fill="url(#pASO)" stroke="#000" stroke-width="1.5"/>
<path d="M470.85 452.46V439.25M466.55 439.25H475.15" stroke="#000" stroke-width="1.5" fill="none"/>
<rect x="463.5" y="452.46" width="14.7" height="65.14" fill="url(#pNC)" stroke="#000" stroke-width="1.5"/>
<path d="M309.2 399.6V517.6H486.8" stroke="#000" stroke-width="1.25" fill="none"/>
<path d="M308.6 517.6H312.9" stroke="#000" stroke-width="1.05"/>
<text transform="translate(307.3 520.6) scale(1 1.045)" text-anchor="end" class="t" style="font-size:8.6px">0</text>
<path d="M308.6 494H312.9" stroke="#000" stroke-width="1.05"/>
<text transform="translate(307.3 497) scale(1 1.045)" text-anchor="end" class="t" style="font-size:8.6px">1</text>
<path d="M308.6 470.4H312.9" stroke="#000" stroke-width="1.05"/>
<text transform="translate(307.3 473.4) scale(1 1.045)" text-anchor="end" class="t" style="font-size:8.6px">2</text>
<path d="M308.6 446.8H312.9" stroke="#000" stroke-width="1.05"/>
<text transform="translate(307.3 449.8) scale(1 1.045)" text-anchor="end" class="t" style="font-size:8.6px">3</text>
<path d="M308.6 423.2H312.9" stroke="#000" stroke-width="1.05"/>
<text transform="translate(307.3 426.2) scale(1 1.045)" text-anchor="end" class="t" style="font-size:8.6px">4</text>
<path d="M308.6 399.6H312.9" stroke="#000" stroke-width="1.05"/>
<text transform="translate(307.3 402.6) scale(1 1.045)" text-anchor="end" class="t" style="font-size:8.6px">5</text>
<text transform="translate(352.55 529.5) scale(1 1.045)" text-anchor="middle" class="t" style="font-size:9.25px">24h</text>
<text transform="translate(441.45 529.5) scale(1 1.045)" text-anchor="middle" class="t" style="font-size:9.25px">72h</text>
<text transform="translate(296.4 458.6) rotate(-90) scale(1 1.045)" text-anchor="middle" class="t" style="font-size:9.45px">NF-κ B protein relative density</text>
<text x="338.5" y="463.5" text-anchor="middle" class="s">**</text>
<text x="352.2" y="453.5" text-anchor="middle" class="s">**</text>
<text x="365.9" y="434.7" text-anchor="middle" class="s">**</text>
<text x="385.2" y="463" text-anchor="middle" class="s">**</text>
<text x="427.2" y="449" text-anchor="middle" class="s">**</text>
<text x="440.9" y="443.5" text-anchor="middle" class="s">**</text>
<text x="455.2" y="416" text-anchor="middle" class="s">**</text>
<text x="469.2" y="439" text-anchor="middle" class="s">**</text>
<text x="352.5" y="458.8" text-anchor="middle" class="h">##</text>
<text x="366.2" y="439.5" text-anchor="middle" class="h">##</text>
<text x="441.2" y="450.3" text-anchor="middle" class="h">##</text>
<text x="455.5" y="422.1" text-anchor="middle" class="h">##</text>
<rect x="319.5" y="379.5" width="12.8" height="5.9" fill="url(#pSham)" stroke="#000" stroke-width="1.7"/>
<text transform="translate(339.2 385.8) scale(1 1.045)" class="t">Sham</text>
<rect x="377.6" y="379.5" width="12.8" height="5.9" fill="#fff"/>
<path d="M378.45 380.35h1.59v1.4h-1.59zM381.62 380.35h1.59v1.4h-1.59zM384.79 380.35h1.59v1.4h-1.59zM387.96 380.35h1.59v1.4h-1.59zM380.04 381.75h1.59v1.4h-1.59zM383.21 381.75h1.59v1.4h-1.59zM386.38 381.75h1.59v1.4h-1.59zM378.45 383.15h1.59v1.4h-1.59zM381.62 383.15h1.59v1.4h-1.59zM384.79 383.15h1.59v1.4h-1.59zM387.96 383.15h1.59v1.4h-1.59z" fill="#000"/>
<rect x="377.6" y="379.5" width="12.8" height="5.9" fill="none" stroke="#000" stroke-width="1.7"/>
<text transform="translate(397.5 385.8) scale(1 1.045)" class="t">IR</text>
<rect x="416.3" y="379.5" width="12.8" height="5.9" fill="#fff"/>
<path d="M416.3 382.45h12.8" stroke="#8a8a8a" stroke-width="1.5" fill="none"/>
<rect x="416.3" y="379.5" width="12.8" height="5.9" fill="none" stroke="#000" stroke-width="1.7"/>
<text transform="translate(436.2 385.8) scale(1 1.045)" class="t">IR+mimic-27a</text>
<rect x="320.1" y="396.8" width="12.8" height="5.9" fill="#fff"/>
<path d="M323.73 396.8v5.9M326.5 396.8v5.9M329.28 396.8v5.9" stroke="#333" stroke-width="0.95" fill="none"/>
<rect x="320.1" y="396.8" width="12.8" height="5.9" fill="none" stroke="#000" stroke-width="1.7"/>
<text transform="translate(340 403.1) scale(1 1.045)" class="t">IR+ASO-27a</text>
<rect x="416.3" y="396.8" width="12.8" height="5.9" fill="url(#pNC)" stroke="#000" stroke-width="1.7"/>
<text transform="translate(436.2 403.1) scale(1 1.045)" class="t">IR+NC-27a</text>
<text x="268" y="396" class="L">g</text>
</g>
<g>
<path d="M609.85 499.54V496.11M605.55 496.11H614.15" stroke="#000" stroke-width="1.5" fill="none"/>
<rect x="602.5" y="499.54" width="14.7" height="17.26" fill="url(#pSham)" stroke="#000" stroke-width="1.5"/>
<path d="M624.55 455.31V442.78M620.25 442.78H628.85" stroke="#000" stroke-width="1.5" fill="none"/>
<rect x="617.2" y="455.31" width="14.7" height="61.49" fill="url(#pIR)" stroke="#000" stroke-width="1.5"/>
<path d="M639.25 467.84V451.05M634.95 451.05H643.55" stroke="#000" stroke-width="1.5" fill="none"/>
<rect x="631.9" y="467.84" width="14.7" height="48.96" fill="url(#pMim)" stroke="#000" stroke-width="1.5"/>
<path d="M653.95 440.77V417.35M649.65 417.35H658.25" stroke="#000" stroke-width="1.5" fill="none"/>
<rect x="646.6" y="440.77" width="14.7" height="76.03" fill="url(#pASO)" stroke="#000" stroke-width="1.5"/>
<path d="M668.65 459.09V438.28M664.35 438.28H672.95" stroke="#000" stroke-width="1.5" fill="none"/>
<rect x="661.3" y="459.09" width="14.7" height="57.71" fill="url(#pNC)" stroke="#000" stroke-width="1.5"/>
<path d="M698.35 497.88V493.5M694.05 493.5H702.65" stroke="#000" stroke-width="1.5" fill="none"/>
<rect x="691" y="497.88" width="14.7" height="18.92" fill="url(#pSham)" stroke="#000" stroke-width="1.5"/>
<path d="M713.05 445.85V430.24M708.75 430.24H717.35" stroke="#000" stroke-width="1.5" fill="none"/>
<rect x="705.7" y="445.85" width="14.7" height="70.95" fill="url(#pIR)" stroke="#000" stroke-width="1.5"/>
<path d="M727.75 460.75V441.59M723.45 441.59H732.05" stroke="#000" stroke-width="1.5" fill="none"/>
<rect x="720.4" y="460.75" width="14.7" height="56.05" fill="url(#pMim)" stroke="#000" stroke-width="1.5"/>
<path d="M742.45 434.02V412.74M738.15 412.74H746.75" stroke="#000" stroke-width="1.5" fill="none"/>
<rect x="735.1" y="434.02" width="14.7" height="82.77" fill="url(#pASO)" stroke="#000" stroke-width="1.5"/>
<path d="M757.15 447.27V427.76M752.85 427.76H761.45" stroke="#000" stroke-width="1.5" fill="none"/>
<rect x="749.8" y="447.27" width="14.7" height="69.53" fill="url(#pNC)" stroke="#000" stroke-width="1.5"/>
<path d="M595.8 398.55V516.8H773.4" stroke="#000" stroke-width="1.25" fill="none"/>
<path d="M595.2 516.8H599.5" stroke="#000" stroke-width="1.05"/>
<text transform="translate(593.9 519.8) scale(1 1.045)" text-anchor="end" class="t" style="font-size:8.6px">0</text>
<path d="M595.2 493.15H599.5" stroke="#000" stroke-width="1.05"/>
<text transform="translate(593.9 496.15) scale(1 1.045)" text-anchor="end" class="t" style="font-size:8.6px">20</text>
<path d="M595.2 469.5H599.5" stroke="#000" stroke-width="1.05"/>
<text transform="translate(593.9 472.5) scale(1 1.045)" text-anchor="end" class="t" style="font-size:8.6px">40</text>
<path d="M595.2 445.85H599.5" stroke="#000" stroke-width="1.05"/>
<text transform="translate(593.9 448.85) scale(1 1.045)" text-anchor="end" class="t" style="font-size:8.6px">60</text>
<path d="M595.2 422.2H599.5" stroke="#000" stroke-width="1.05"/>
<text transform="translate(593.9 425.2) scale(1 1.045)" text-anchor="end" class="t" style="font-size:8.6px">80</text>
<path d="M595.2 398.55H599.5" stroke="#000" stroke-width="1.05"/>
<text transform="translate(593.9 401.55) scale(1 1.045)" text-anchor="end" class="t" style="font-size:8.6px">100</text>
<text transform="translate(639.25 529.1) scale(1 1.045)" text-anchor="middle" class="t" style="font-size:9.25px">24h</text>
<text transform="translate(727.75 529.1) scale(1 1.045)" text-anchor="middle" class="t" style="font-size:9.25px">72h</text>
<text transform="translate(573.5 457.67) rotate(-90) scale(1 1.045)" text-anchor="middle" class="t" style="font-size:10.94px">IL-1β  level (pg/mg protein)</text>
<text x="623.5" y="444.3" text-anchor="middle" class="s">**</text>
<text x="637.7" y="437.3" text-anchor="middle" class="s">**</text>
<text x="665.9" y="421" text-anchor="middle" class="s">**</text>
<text x="679.7" y="453.5" text-anchor="middle" class="s">**</text>
<text x="712.7" y="430.3" text-anchor="middle" class="s">**</text>
<text x="726.5" y="430.3" text-anchor="middle" class="s">**</text>
<text x="754.7" y="416" text-anchor="middle" class="s">**</text>
<text x="768.9" y="444.3" text-anchor="middle" class="s">**</text>
<text x="637.5" y="443.3" text-anchor="middle" class="h">##</text>
<text x="665.5" y="423.3" text-anchor="middle" class="h">##</text>
<text x="726.8" y="435.8" text-anchor="middle" class="h">##</text>
<text x="755" y="417.8" text-anchor="middle" class="h">##</text>
<rect x="606.9" y="379.5" width="12.8" height="5.9" fill="url(#pSham)" stroke="#000" stroke-width="1.7"/>
<text transform="translate(626.8 385.8) scale(1 1.045)" class="t">Sham</text>
<rect x="657.6" y="379.5" width="12.8" height="5.9" fill="#fff"/>
<path d="M658.45 380.35h1.59v1.4h-1.59zM661.62 380.35h1.59v1.4h-1.59zM664.79 380.35h1.59v1.4h-1.59zM667.96 380.35h1.59v1.4h-1.59zM660.04 381.75h1.59v1.4h-1.59zM663.21 381.75h1.59v1.4h-1.59zM666.38 381.75h1.59v1.4h-1.59zM658.45 383.15h1.59v1.4h-1.59zM661.62 383.15h1.59v1.4h-1.59zM664.79 383.15h1.59v1.4h-1.59zM667.96 383.15h1.59v1.4h-1.59z" fill="#000"/>
<rect x="657.6" y="379.5" width="12.8" height="5.9" fill="none" stroke="#000" stroke-width="1.7"/>
<text transform="translate(678 385.8) scale(1 1.045)" class="t">IR</text>
<rect x="692.1" y="379.5" width="12.8" height="5.9" fill="#fff"/>
<path d="M692.1 382.45h12.8" stroke="#8a8a8a" stroke-width="1.5" fill="none"/>
<rect x="692.1" y="379.5" width="12.8" height="5.9" fill="none" stroke="#000" stroke-width="1.7"/>
<text transform="translate(712 385.8) scale(1 1.045)" class="t">IR+mimic-27a</text>
<rect x="606.9" y="394.9" width="12.8" height="5.9" fill="#fff"/>
<path d="M610.52 394.9v5.9M613.3 394.9v5.9M616.08 394.9v5.9" stroke="#333" stroke-width="0.95" fill="none"/>
<rect x="606.9" y="394.9" width="12.8" height="5.9" fill="none" stroke="#000" stroke-width="1.7"/>
<text transform="translate(626.8 401.8) scale(1 1.045)" class="t">IR+ASO-27a</text>
<rect x="694.6" y="394.9" width="12.8" height="5.9" fill="url(#pNC)" stroke="#000" stroke-width="1.7"/>
<text transform="translate(714.5 401.8) scale(1 1.045)" class="t">IR+NC-27a</text>
<text x="547" y="394.2" class="L">h</text>
</g>
</svg></body></html>
